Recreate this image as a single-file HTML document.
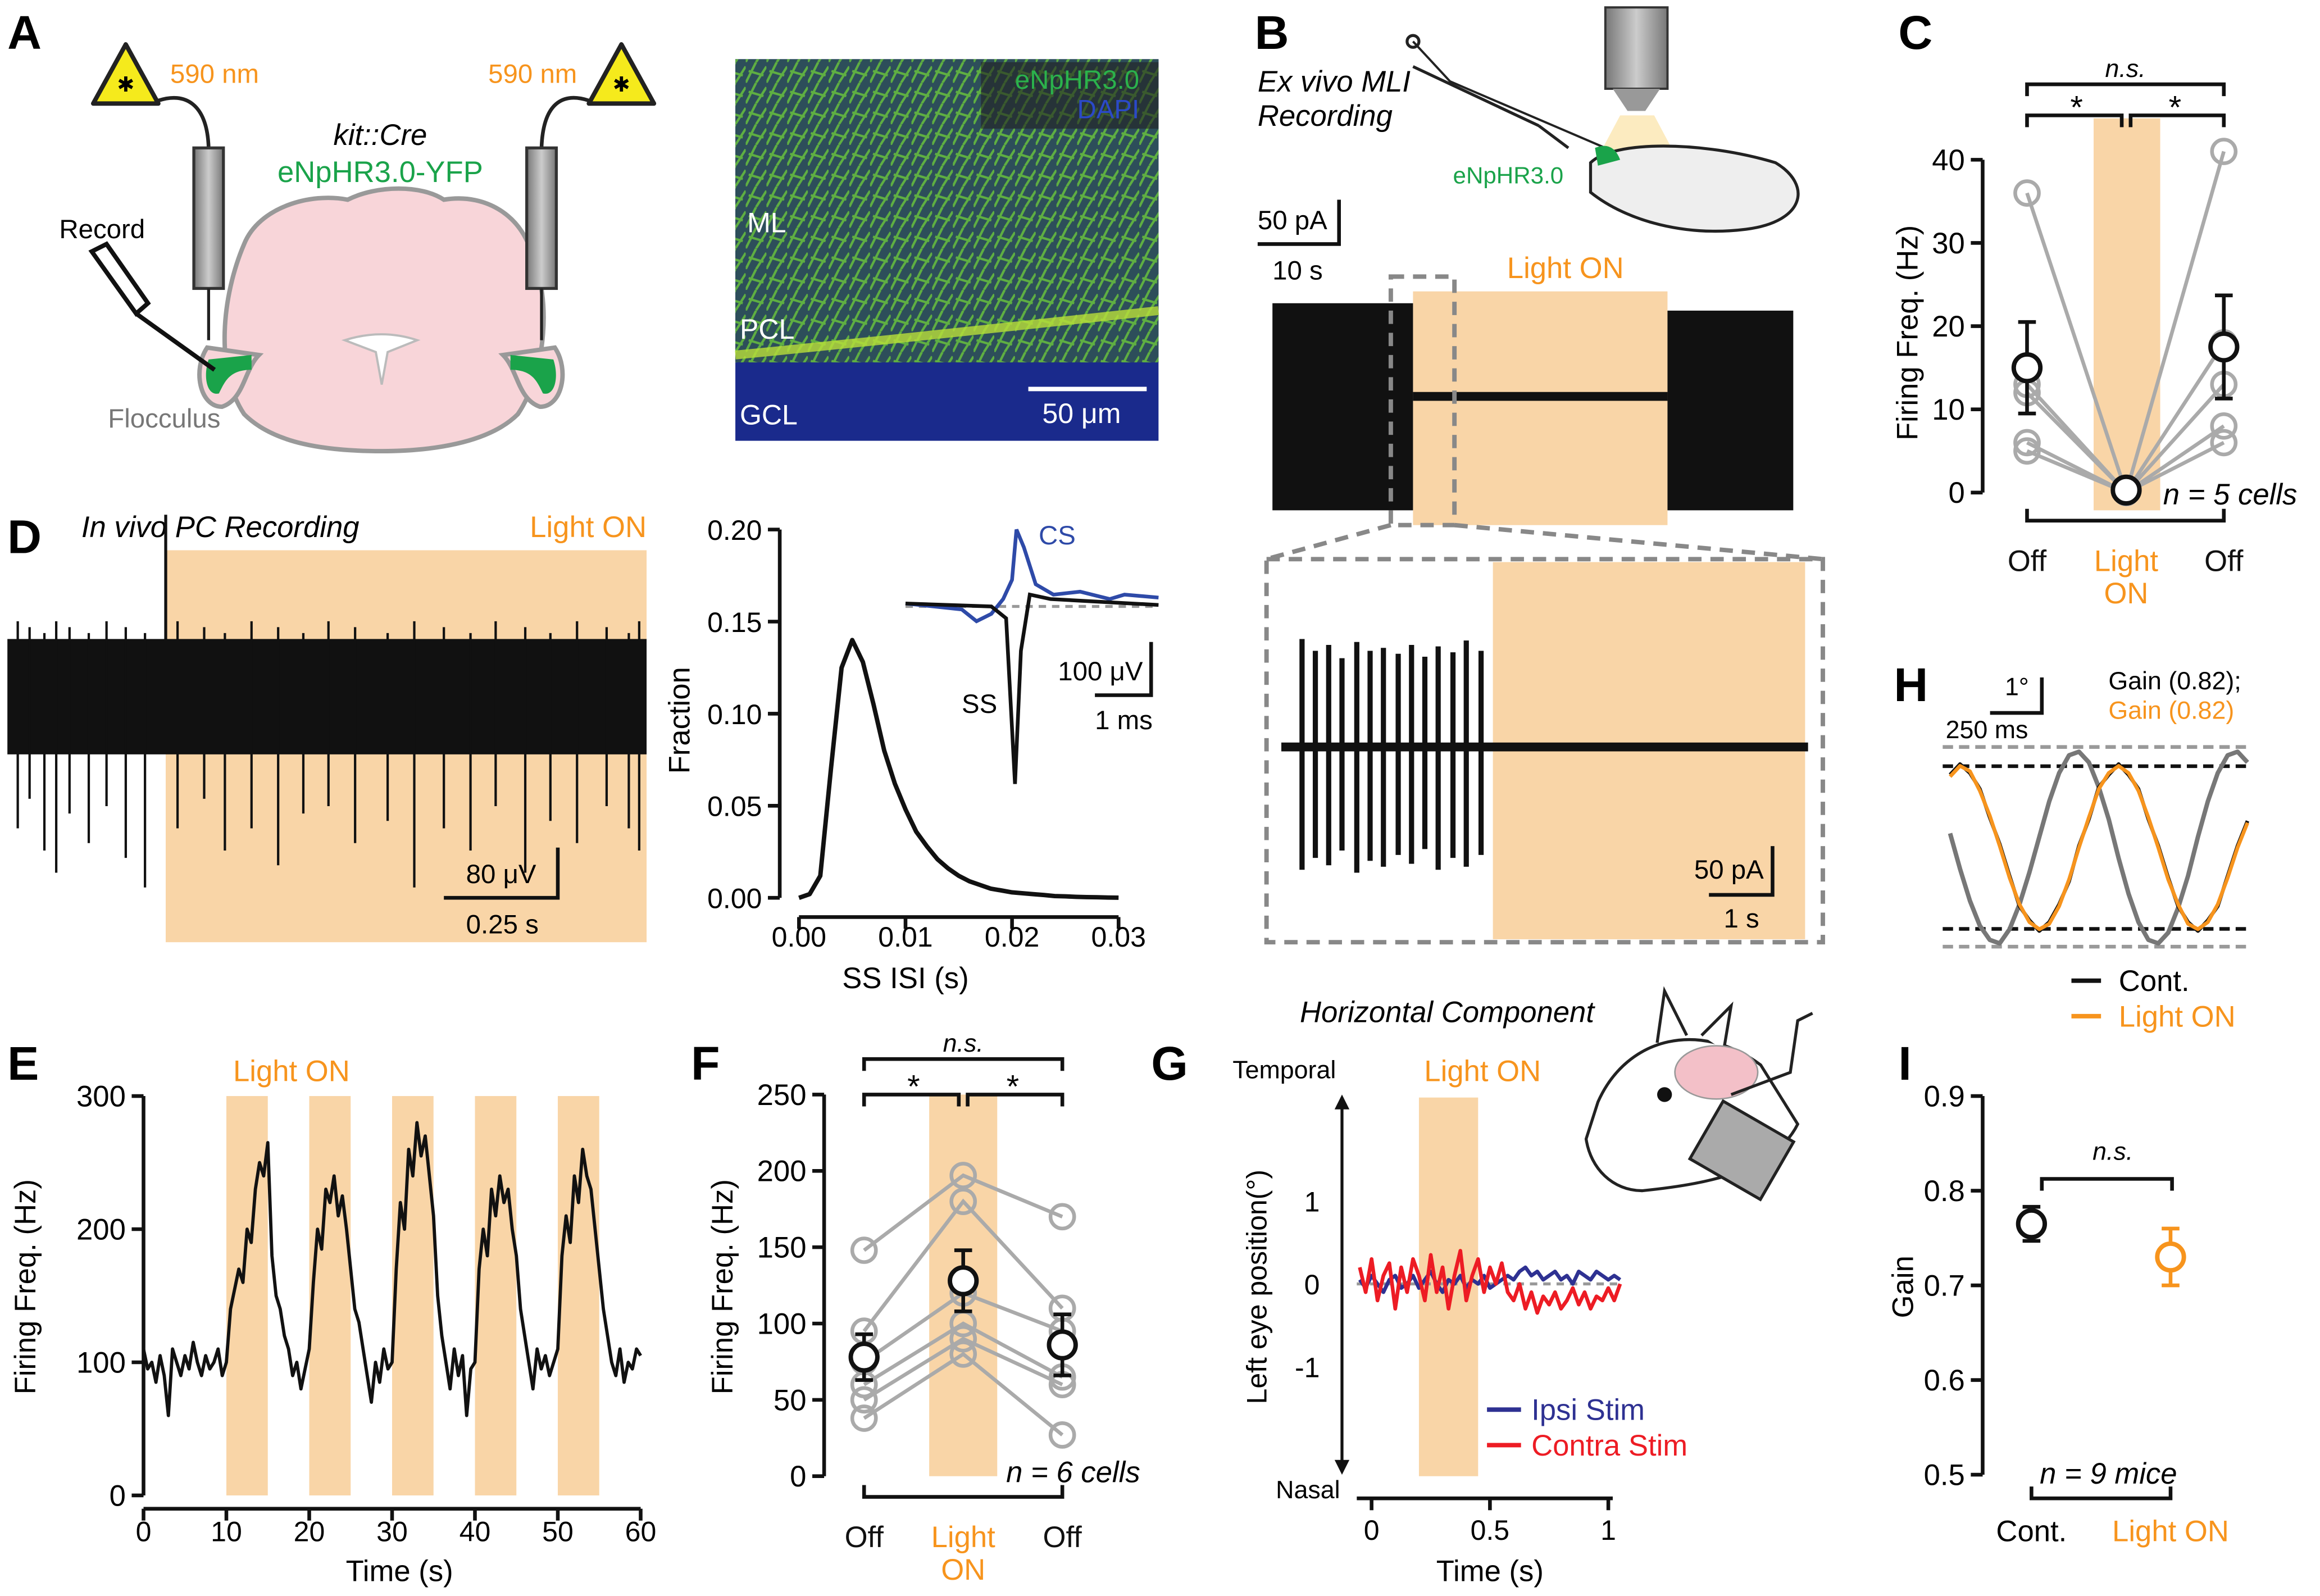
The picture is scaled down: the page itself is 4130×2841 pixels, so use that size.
<!DOCTYPE html>
<html><head><meta charset="utf-8"><style>
html,body{margin:0;padding:0;background:#fff;}
svg{display:block;font-family:"Liberation Sans",Arial,sans-serif;}
</style></head><body>
<svg id="fig" xmlns="http://www.w3.org/2000/svg" width="4130" height="2841" viewBox="0 0 1568 1079" preserveAspectRatio="none">
<defs>
<linearGradient id="cyl" x1="0" x2="1"><stop offset="0" stop-color="#777"/><stop offset="0.5" stop-color="#ccc"/><stop offset="1" stop-color="#777"/></linearGradient>
<pattern id="neur" width="14" height="14" patternUnits="userSpaceOnUse"><path d="M0 14 L7 0 M7 14 L14 3 M2 6 L12 9" stroke="#6fcf3a" stroke-width="1.6" fill="none"/></pattern>
</defs>
<rect width="1568" height="1079" fill="#fff"/>

<!-- Panel A -->
<g>
<text x="5" y="33" font-size="32" font-weight="bold">A</text>
<g><path d="M85 30 L63 70 L107 70 Z" fill="#f5ea1c" stroke="#222" stroke-width="3" stroke-linejoin="round"/><text x="85" y="62" font-size="14" text-anchor="middle">✱</text></g>
<g><path d="M420 30 L398 70 L442 70 Z" fill="#f5ea1c" stroke="#222" stroke-width="3" stroke-linejoin="round"/><text x="420" y="62" font-size="14" text-anchor="middle">✱</text></g>
<path d="M107 68 C125 62 140 70 141 100 M398 68 C380 62 367 70 366 100" stroke="#222" stroke-width="2.5" fill="none"/>
<text x="115" y="56" font-size="18" fill="#f7941d">590 nm</text>
<text x="330" y="56" font-size="18" fill="#f7941d">590 nm</text>
<text x="257" y="98" font-size="20" font-style="italic" text-anchor="middle">kit::Cre</text>
<text x="257" y="123" font-size="20" fill="#1aa34a" text-anchor="middle">eNpHR3.0-YFP</text>
<path d="M165 165 C175 140 210 130 235 135 C255 125 285 125 300 135 C330 130 355 148 360 175 C372 200 370 250 350 280 C330 300 290 305 258 305 C220 305 185 300 165 280 C145 250 150 200 165 165 Z" fill="#f8d5d9" stroke="#999" stroke-width="3"/>
<path d="M233 230 Q258 222 282 230 L262 238 L258 260 L254 238 Z" fill="#fff" stroke="#bbb" stroke-width="1.5"/>
<path d="M140 235 C130 250 135 275 150 275 C165 270 165 250 175 240 Z" fill="#f8d5d9" stroke="#999" stroke-width="3"/>
<path d="M375 235 C385 250 380 275 365 275 C350 270 350 250 340 240 Z" fill="#f8d5d9" stroke="#999" stroke-width="3"/>
<path d="M141 243 C137 255 140 268 148 266 C152 258 155 250 170 250 L170 240 Z" fill="#1aa34a"/>
<path d="M374 243 C378 255 375 268 367 266 C363 258 360 250 345 250 L345 240 Z" fill="#1aa34a"/>
<rect x="131" y="100" width="20" height="95" fill="url(#cyl)" stroke="#333" stroke-width="2"/>
<rect x="356" y="100" width="20" height="95" fill="url(#cyl)" stroke="#333" stroke-width="2"/>
<path d="M141 195 L141 230 M366 195 L366 230" stroke="#222" stroke-width="2"/>
<text x="40" y="161" font-size="18">Record</text>
<path d="M62 170 L72 165 L100 205 L92 212 Z M92 212 L145 250" stroke="#111" stroke-width="3" fill="#fff"/>
<text x="73" y="289" font-size="18" fill="#777">Flocculus</text>
</g>
<g>
<rect x="497" y="40" width="286" height="258" fill="#1a2a8c"/>
<rect x="497" y="40" width="286" height="205" fill="#2d4e5a"/>
<rect x="497" y="40" width="286" height="205" fill="url(#neur)" opacity="0.75"/>
<path d="M497 240 Q600 230 783 210" stroke="#b9e03a" stroke-width="6" fill="none" opacity="0.8"/>
<rect x="663" y="42" width="120" height="45" fill="#222" opacity="0.6"/>
<text x="770" y="60" font-size="18" fill="#2bb24c" text-anchor="end">eNpHR3.0</text>
<text x="770" y="80" font-size="18" fill="#2b49c8" text-anchor="end">DAPI</text>
<text x="505" y="157" font-size="19" fill="#fff">ML</text>
<text x="500" y="229" font-size="19" fill="#fff">PCL</text>
<text x="500" y="287" font-size="19" fill="#fff">GCL</text>
<line x1="695" y1="263" x2="775" y2="263" stroke="#fff" stroke-width="3"/>
<text x="731" y="286" font-size="19" fill="#fff" text-anchor="middle">50 μm</text>
</g>

<!-- Panel B -->
<g>
<text x="848" y="33" font-size="32" font-weight="bold">B</text>
<text x="850" y="62" font-size="20" font-style="italic">Ex vivo MLI</text>
<text x="850" y="85" font-size="20" font-style="italic">Recording</text>
<path d="M955 45 L1040 85 M1040 85 L1060 100" stroke="#222" stroke-width="2" fill="none"/>
<circle cx="955" cy="28" r="4" fill="none" stroke="#222" stroke-width="2"/>
<path d="M955 28 L980 55 L1085 100" stroke="#222" stroke-width="1.5" fill="none"/>
<rect x="1085" y="5" width="42" height="55" fill="url(#cyl)" stroke="#333" stroke-width="1.5"/>
<path d="M1090 60 L1122 60 L1112 75 L1100 75 Z" fill="#999"/>
<path d="M1095 78 L1118 78 L1135 110 L1078 110 Z" fill="#fbe6b0" opacity="0.8"/>
<path d="M1075 110 C1090 95 1150 95 1200 110 C1225 125 1220 150 1180 155 C1140 160 1100 150 1075 130 Z" fill="#eee" stroke="#222" stroke-width="2"/>
<path d="M1078 100 Q1090 95 1095 108 L1080 112 Z" fill="#1aa34a"/>
<text x="982" y="124" font-size="16" fill="#1aa34a">eNpHR3.0</text>
<text x="850" y="155" font-size="18">50 pA</text>
<path d="M850 165 L905 165 L905 135" stroke="#111" stroke-width="2.5" fill="none"/>
<text x="860" y="189" font-size="18">10 s</text>
<text x="1058" y="188" font-size="20" fill="#f7941d" text-anchor="middle">Light ON</text>
<rect x="955" y="197" width="172" height="158" fill="#f9d5a7"/>
<rect x="860" y="205" width="95" height="140" fill="#111"/>
<line x1="955" y1="268" x2="1127" y2="268" stroke="#111" stroke-width="6"/>
<rect x="1127" y="210" width="85" height="135" fill="#111"/>
<rect x="940" y="187" width="43" height="168" fill="none" stroke="#888" stroke-width="3" stroke-dasharray="9,6"/>
<path d="M940 355 L856 378 M983 355 L1232 378" stroke="#888" stroke-width="3" stroke-dasharray="9,6"/>
<rect x="856" y="378" width="376" height="259" fill="none" stroke="#888" stroke-width="3" stroke-dasharray="9,6"/>
<rect x="1009" y="380" width="211" height="255" fill="#f9d5a7"/>
<g id="bspikes"></g>
<line x1="866" y1="505" x2="1222" y2="505" stroke="#111" stroke-width="6"/>
<text x="1145" y="594" font-size="18">50 pA</text>
<path d="M1155 605 L1198 605 L1198 572" stroke="#111" stroke-width="2.5" fill="none"/>
<text x="1165" y="627" font-size="18">1 s</text>
</g>

<!-- Panel D left -->
<g>
<text x="5" y="374" font-size="32" font-weight="bold">D</text>
<text x="55" y="363" font-size="20" font-style="italic">In vivo PC Recording</text>
<text x="437" y="363" font-size="20" fill="#f7941d" text-anchor="end">Light ON</text>
<rect x="112" y="372" width="325" height="265" fill="#f9d5a7"/>
<rect x="5" y="432" width="432" height="78" fill="#111"/>
<line x1="112" y1="348" x2="112" y2="432" stroke="#111" stroke-width="2"/>
<g id="dspikes"></g>
<text x="315" y="597" font-size="18">80 μV</text>
<path d="M300 607 L377 607 L377 573" stroke="#111" stroke-width="2.5" fill="none"/>
<text x="315" y="631" font-size="18">0.25 s</text>
</g>
<g id="isi"></g>
<g id="panelC"></g>
<g id="panelE"></g>
<g id="panelF"></g>
<g id="panelG">
<g>
<path d="M1080 745 C1100 700 1150 690 1190 720 L1215 760 C1200 790 1160 800 1110 805 C1090 805 1075 790 1072 770 Z" fill="#fff" stroke="#222" stroke-width="2"/>
<path d="M1120 705 L1125 670 L1140 700 M1150 700 L1170 680 L1165 710" stroke="#222" stroke-width="2" fill="#fff"/>
<ellipse cx="1160" cy="725" rx="28" ry="18" fill="#f3c0c8" stroke="#999"/>
<circle cx="1125" cy="740" r="5" fill="#111"/>
<path d="M1170 740 L1210 725 L1215 690 L1225 685" stroke="#222" stroke-width="2" fill="none"/>
<rect x="1150" y="755" width="55" height="45" fill="#aaa" stroke="#222" stroke-width="2" transform="rotate(30 1177 777)"/>
</g>
</g>
<g id="panelH"></g>
<g id="panelI"></g>
</svg>
<script>
const NS='http://www.w3.org/2000/svg';
function mk(tag,attrs,parent,txt){const e=document.createElementNS(NS,tag);for(const k in attrs)e.setAttribute(k,attrs[k]);if(txt!==undefined)e.textContent=txt;parent.appendChild(e);return e;}
const ORANGE='#f7941d', BAND='#f9d5a7';

// ---- data ----
const bSpikeX=[880,889,898,907,917,926,935,945,954,963,972,982,991,1001];
const bSpikeTop=[432,440,436,445,434,440,438,442,436,444,437,441,433,440];
const bSpikeBot=[588,580,585,575,590,582,586,578,584,574,588,580,586,578];
const dSpikeX=[12,20,30,38,47,60,72,85,98,120,138,152,170,188,205,222,240,262,280,300,318,335,355,372,390,410,425,432];
const dSpikeBot=[560,540,575,590,550,570,545,580,600,560,540,575,560,585,550,545,570,555,600,560,575,545,590,555,570,545,560,575];
const isiX=[0,0.001,0.002,0.003,0.004,0.005,0.006,0.007,0.008,0.009,0.010,0.011,0.012,0.013,0.014,0.015,0.016,0.017,0.018,0.019,0.020,0.021,0.022,0.023,0.024,0.025,0.026,0.027,0.028,0.029,0.030];
const isiY=[0,0.002,0.012,0.07,0.125,0.14,0.128,0.105,0.08,0.062,0.048,0.036,0.028,0.021,0.016,0.012,0.009,0.007,0.005,0.004,0.003,0.0025,0.002,0.0015,0.001,0.0008,0.0006,0.0004,0.0003,0.0002,0.0001];
const isiTicksX=[0,0.01,0.02,0.03];
const isiTickLabelsX=['0.00','0.01','0.02','0.03'];
const isiTicksY=[0,0.05,0.10,0.15,0.20];
const isiTickLabelsY=['0.00','0.05','0.10','0.15','0.20'];
const cCats=['Off','Light ON','Off'];
const cOff1=[36,13,12,6,5];
const cOn=[0,0,0,0,0];
const cOff2=[41,18,13,8,6];
const cMean=[15,0.3,17.5];
const cSem=[5.5,0.4,6.2];
const cTicks=[0,10,20,30,40];
const eTime=[];for(let i=0;i<=120;i++)eTime.push(i*0.5);
const eRate=[110,95,100,85,105,90,60,110,100,90,105,95,115,100,90,105,95,100,110,90,100,
140,155,170,160,200,190,230,250,240,265,
180,150,140,120,110,90,100,80,95,110,
160,200,185,230,220,240,210,225,200,170,
140,130,110,90,70,100,85,110,95,100,
170,220,200,260,240,280,255,270,240,210,
150,120,100,80,110,90,105,60,95,100,
170,200,180,230,210,240,220,230,200,180,
140,120,100,80,110,95,105,90,100,110,
180,210,190,240,220,260,240,230,200,170,
140,120,100,90,110,85,100,95,110,105];
const eLightStart=[10,20,30,40,50];
const eTicksX=[0,10,20,30,40,50,60];
const eTicksY=[0,100,200,300];
const fOff1=[148,95,75,60,50,38];
const fOn=[197,180,120,100,90,80];
const fOff2=[170,110,95,65,60,27];
const fMean=[78,128,86];
const fSem=[15,20,20];
const fTicks=[0,50,100,150,200,250];
const gTime=[];for(let i=0;i<45;i++)gTime.push(-0.05+i*0.025);
const gBlue=[0.05,-0.05,0.1,0,-0.1,0.05,0.1,-0.05,0,0.1,-0.05,0.05,0.15,0,-0.1,0.05,0,0.1,-0.05,0.05,0,0.1,-0.05,0,0.05,0.1,0.05,0.15,0.2,0.1,0.15,0.05,0.1,0.15,0.05,0.1,0,0.15,0.1,0.05,0.15,0.1,0.05,0.1,0.05];
const gRed=[0.2,-0.1,0.3,-0.2,0.1,0.25,-0.3,0.2,-0.1,0.3,0.1,-0.2,0.35,-0.1,0.2,-0.3,0.1,0.4,-0.2,0.1,0.3,-0.1,0.2,0,0.25,-0.1,-0.2,0,-0.3,-0.1,-0.35,-0.15,-0.25,-0.1,-0.3,-0.2,-0.05,-0.25,-0.1,-0.3,-0.15,-0.2,-0.05,-0.2,0];
const gTicksX=[0,0.5,1];
const gTicksY=[1,0,-1];
const hOrange=[2.0,2.3,2.15,1.6,0.9,0.05,-0.85,-1.6,-2.1,-2.3,-2.15,-1.65,-0.9,0,0.85,1.65,2.1,2.3,2.1,1.6,0.85,0,-0.9,-1.6,-2.15,-2.3,-2.1,-1.6,-0.85,0,0.7];
const hBlack=[2.05,2.35,2.1,1.65,0.85,0.1,-0.8,-1.65,-2.05,-2.35,-2.1,-1.6,-0.95,0.05,0.8,1.7,2.05,2.35,2.05,1.65,0.8,0.05,-0.85,-1.65,-2.1,-2.35,-2.05,-1.65,-0.8,0.05,0.75];
const hStim=[0.4,-0.6,-1.5,-2.2,-2.6,-2.7,-2.3,-1.6,-0.7,0.3,1.3,2.1,2.6,2.7,2.4,1.7,0.8,-0.3,-1.3,-2.1,-2.6,-2.7,-2.4,-1.7,-0.8,0.3,1.3,2.1,2.6,2.7,2.4];
const iCats=['Cont.','Light ON'];
const iMean=[0.765,0.73];
const iSem=[0.018,0.03];
const iTicks=[0.5,0.6,0.7,0.8,0.9];

// ---- panel B spikes ----
const bs=document.getElementById('bspikes');
bSpikeX.forEach((x,i)=>{const l=mk('line',{x1:x,x2:x,y1:bSpikeTop[i],y2:bSpikeBot[i],stroke:'#111','stroke-width':3.5},bs);

});
// ---- panel D spikes ----
const ds=document.getElementById('dspikes');
dSpikeX.forEach((x,i)=>{const l=mk('line',{x1:x,x2:x,y1:420+(i%3)*4,y2:dSpikeBot[i],stroke:'#111','stroke-width':1.6},ds);

});

function yAxis(g,x,ticks,yf,labels,fs){mk('line',{x1:x,x2:x,y1:yf(ticks[ticks.length-1]),y2:yf(ticks[0]),stroke:'#111','stroke-width':2.5},g);
ticks.forEach((t,i)=>{mk('line',{x1:x-8,x2:x,y1:yf(t),y2:yf(t),stroke:'#111','stroke-width':2.5},g);
const tx=mk('text',{x:x-12,y:yf(t)+7,'font-size':fs||20,'text-anchor':'end'},g,labels?labels[i]:String(t));

});}
function poly(g,xs,ys,xf,yf,color,w){const p=xs.map((v,i)=>xf(v).toFixed(1)+','+yf(ys[i]).toFixed(1)).join(' ');return mk('polyline',{points:p,fill:'none',stroke:color,'stroke-width':w,'stroke-linejoin':'round'},g);}

// ---- ISI ----
(function(){const g=document.getElementById('isi');
const xf=v=>540+v*7200, yf=v=>607-v*1245;
yAxis(g,527,isiTicksY,yf,isiTickLabelsY,19);
mk('line',{x1:xf(0),x2:xf(0.03),y1:620,y2:620,stroke:'#111','stroke-width':2.5},g);
isiTicksX.forEach((t,i)=>{mk('line',{x1:xf(t),x2:xf(t),y1:620,y2:628,stroke:'#111','stroke-width':2.5},g);
const tx=mk('text',{x:xf(t),y:640,'font-size':19,'text-anchor':'middle'},g,isiTickLabelsX[i]);

});
const ln=poly(g,isiX,isiY,xf,yf,'#111',3);


const xl=mk('text',{x:612,y:668,'font-size':20,'text-anchor':'middle'},g,'SS ISI (s)');


const yl=mk('text',{x:466,y:487,'font-size':20,'text-anchor':'middle',transform:'rotate(-90 466 487)'},g,'Fraction');


mk('line',{x1:612,x2:783,y1:410,y2:410,stroke:'#999','stroke-width':2,'stroke-dasharray':'5,4'},g);
mk('path',{d:'M612 408 L650 412 L660 420 L670 415 L678 405 L684 392 L687 358 L692 370 L700 395 L712 402 L730 400 L750 405 L760 402 L783 404',fill:'none',stroke:'#2e4aa8','stroke-width':2.5},g);
mk('path',{d:'M612 408 L670 410 L680 418 L686 530 L690 440 L696 402 L710 405 L783 409',fill:'none',stroke:'#111','stroke-width':2.5},g);
mk('text',{x:702,y:368,'font-size':18,fill:'#2e4aa8'},g,'CS');
mk('text',{x:650,y:482,'font-size':18},g,'SS');
mk('text',{x:715,y:460,'font-size':18},g,'100 μV');
mk('path',{d:'M740 470 L778 470 L778 434',fill:'none',stroke:'#111','stroke-width':2.5},g);
mk('text',{x:740,y:493,'font-size':18},g,'1 ms');
})();

function dotPanel(g,axX,yf,ticks,catX,sets,mean,sem,bandX,bandTop,bandBot,bracketY1,bracketY2){
 mk('rect',{x:bandX[0],y:bandTop,width:bandX[1]-bandX[0],height:bandBot-bandTop,fill:BAND},g);
 yAxis(g,axX,ticks,yf,null,20);
 for(let k=0;k<sets[0].length;k++){const p=catX.map((x,j)=>x+','+yf(sets[j][k])).join(' ');
  const l=mk('polyline',{points:p,fill:'none',stroke:'#aaa','stroke-width':2.5},g);
  
  
  catX.forEach((x,j)=>{const c=mk('circle',{cx:x,cy:yf(sets[j][k]),r:8,fill:'none',stroke:'#aaa','stroke-width':2.5},g);
   
   });}
 catX.forEach((x,j)=>{mk('path',{d:`M${x-6} ${yf(mean[j]+sem[j])} h12 M${x} ${yf(mean[j]+sem[j])} V${yf(mean[j]-sem[j])} M${x-6} ${yf(mean[j]-sem[j])} h12`,stroke:'#111','stroke-width':2.5,fill:'none'},g);
  const c=mk('circle',{cx:x,cy:yf(mean[j]),r:9,fill:'#fff',stroke:'#111','stroke-width':3},g);
  
  });
 const a=catX[0],b=catX[1],c2=catX[2];
 mk('path',{d:`M${a} ${bracketY1+8} V${bracketY1} H${c2} V${bracketY1+8}`,stroke:'#111','stroke-width':2.5,fill:'none'},g);
 mk('path',{d:`M${a} ${bracketY2+8} V${bracketY2} H${b-3} V${bracketY2+8} M${b+3} ${bracketY2+8} V${bracketY2} H${c2} V${bracketY2+8}`,stroke:'#111','stroke-width':2.5,fill:'none'},g);
 mk('text',{x:(a+c2)/2,y:bracketY1-5,'font-size':17,'font-style':'italic','text-anchor':'middle'},g,'n.s.');
 mk('text',{x:(a+b)/2,y:bracketY2+2,'font-size':22,'text-anchor':'middle'},g,'*');
 mk('text',{x:(b+c2)/2,y:bracketY2+2,'font-size':22,'text-anchor':'middle'},g,'*');
}
function catAxis(g,catX,y,labels){mk('path',{d:`M${catX[0]} ${y-8} V${y} H${catX[catX.length-1]} V${y-8}`,stroke:'#111','stroke-width':2.5,fill:'none'},g);
 labels.forEach((l,i)=>{const c=l==='Light ON'?ORANGE:'#111';
  if(l==='Light ON'){mk('text',{x:catX[i],y:y+34,'font-size':20,fill:c,'text-anchor':'middle'},g,'Light');
   mk('text',{x:catX[i],y:y+56,'font-size':20,fill:c,'text-anchor':'middle'},g,'ON');}
  else{const t=mk('text',{x:catX[i],y:y+34,'font-size':20,fill:c,'text-anchor':'middle'},g,l);
   
   }});}

// ---- C ----
(function(){const g=document.getElementById('panelC');const yf=v=>333-v*5.625;const cx=[1370,1437,1503];
mk('text',{x:1283,y:33,'font-size':32,'font-weight':'bold'},g,'C');
dotPanel(g,1340,yf,cTicks,cx,[cOff1,cOn,cOff2],cMean,cSem,[1415,1460],80,345,57,78);
catAxis(g,cx,352,cCats);
const yl=mk('text',{x:1296,y:225,'font-size':20,'text-anchor':'middle',transform:'rotate(-90 1296 225)'},g,'Firing Freq. (Hz)');


mk('text',{x:1462,y:341,'font-size':20,'font-style':'italic'},g,'n = 5 cells');})();

// ---- E ----
(function(){const g=document.getElementById('panelE');const xf=t=>97+t*5.6,yf=v=>1011-v*0.9;
mk('text',{x:5,y:730,'font-size':32,'font-weight':'bold'},g,'E');
eLightStart.forEach(s=>{const r=mk('rect',{x:xf(s),y:yf(300),width:xf(s+5)-xf(s),height:yf(0)-yf(300),fill:BAND},g);

});
mk('text',{x:197,y:731,'font-size':20,fill:ORANGE,'text-anchor':'middle'},g,'Light ON');
yAxis(g,97,eTicksY,yf,null,20);
mk('line',{x1:97,x2:xf(60),y1:1020,y2:1020,stroke:'#111','stroke-width':2.5},g);
eTicksX.forEach(t=>{mk('line',{x1:xf(t),x2:xf(t),y1:1020,y2:1028,stroke:'#111','stroke-width':2.5},g);
mk('text',{x:xf(t),y:1042,'font-size':19,'text-anchor':'middle'},g,String(t));});
const ln=poly(g,eTime,eRate,xf,yf,'#111',2.2);


mk('text',{x:270,y:1069,'font-size':20,'text-anchor':'middle'},g,'Time (s)');
mk('text',{x:24,y:870,'font-size':20,'text-anchor':'middle',transform:'rotate(-90 24 870)'},g,'Firing Freq. (Hz)');})();

// ---- F ----
(function(){const g=document.getElementById('panelF');const yf=v=>998-v*1.032;const cx=[584,651,718];
mk('text',{x:467,y:730,'font-size':32,'font-weight':'bold'},g,'F');
dotPanel(g,557,yf,fTicks,cx,[fOff1,fOn,fOff2],fMean,fSem,[628,674],740,998,716,740);
catAxis(g,cx,1012,['Off','Light ON','Off']);
mk('text',{x:495,y:870,'font-size':20,'text-anchor':'middle',transform:'rotate(-90 495 870)'},g,'Firing  Freq. (Hz)');
mk('text',{x:680,y:1002,'font-size':20,'font-style':'italic'},g,'n = 6 cells');})();

// ---- G ----
(function(){const g=document.getElementById('panelG');const xf=t=>927+t*160,yf=v=>868-v*56;
mk('text',{x:778,y:730,'font-size':32,'font-weight':'bold'},g,'G');
mk('text',{x:978,y:691,'font-size':20,'font-style':'italic','text-anchor':'middle'},g,'Horizontal Component');
mk('rect',{x:xf(0.2),y:742,width:xf(0.45)-xf(0.2),height:256,fill:BAND},g);
mk('text',{x:1002,y:731,'font-size':20,fill:ORANGE,'text-anchor':'middle'},g,'Light ON');
mk('line',{x1:907,x2:907,y1:742,y2:995,stroke:'#111','stroke-width':2},g);
mk('path',{d:'M902 750 L907 740 L912 750 Z M902 987 L907 997 L912 987 Z',fill:'#111'},g);
mk('text',{x:868,y:729,'font-size':17,'text-anchor':'middle'},g,'Temporal');
mk('text',{x:884,y:1013,'font-size':17,'text-anchor':'middle'},g,'Nasal');
gTicksY.forEach(t=>{mk('text',{x:892,y:yf(t)+7,'font-size':19,'text-anchor':'end'},g,String(t));});
mk('line',{x1:917,x2:1093,y1:yf(0),y2:yf(0),stroke:'#999','stroke-width':2,'stroke-dasharray':'5,4'},g);
const b=poly(g,gTime,gBlue,xf,yf,'#2e3192',2.5);


const r=poly(g,gTime,gRed,xf,yf,'#ed1c24',2.5);


mk('line',{x1:917,x2:1090,y1:1013,y2:1013,stroke:'#111','stroke-width':2.5},g);
gTicksX.forEach(t=>{mk('line',{x1:xf(t),x2:xf(t),y1:1013,y2:1021,stroke:'#111','stroke-width':2.5},g);
mk('text',{x:xf(t),y:1041,'font-size':19,'text-anchor':'middle'},g,String(t));});
mk('text',{x:1007,y:1069,'font-size':20,'text-anchor':'middle'},g,'Time (s)');
mk('text',{x:856,y:870,'font-size':19,'text-anchor':'middle',transform:'rotate(-90 856 870)'},g,'Left eye position(°)');
mk('line',{x1:1005,x2:1028,y1:953,y2:953,stroke:'#2e3192','stroke-width':3},g);
mk('text',{x:1035,y:960,'font-size':20,fill:'#2e3192'},g,'Ipsi Stim');
mk('line',{x1:1005,x2:1028,y1:977,y2:977,stroke:'#ed1c24','stroke-width':3},g);
mk('text',{x:1035,y:984,'font-size':20,fill:'#ed1c24'},g,'Contra Stim');})();

// ---- H ----
(function(){const g=document.getElementById('panelH');const xs=hOrange.map((_,i)=>i);const xf=i=>1318+i*6.7,yf=v=>573-v*24;
mk('text',{x:1280,y:474,'font-size':32,'font-weight':'bold'},g,'H');
mk('text',{x:1355,y:470,'font-size':17},g,'1°');
mk('path',{d:'M1345 482 L1380 482 L1380 458',fill:'none',stroke:'#111','stroke-width':2.5},g);
mk('text',{x:1315,y:499,'font-size':17},g,'250 ms');
mk('text',{x:1425,y:466,'font-size':17},g,'Gain (0.82);');
mk('text',{x:1425,y:486,'font-size':17,fill:ORANGE},g,'Gain (0.82)');
[505,640].forEach(y=>mk('line',{x1:1313,x2:1520,y1:y,y2:y,stroke:'#999','stroke-width':2.5,'stroke-dasharray':'7,4'},g));
[518,628].forEach(y=>mk('line',{x1:1313,x2:1520,y1:y,y2:y,stroke:'#111','stroke-width':2.5,'stroke-dasharray':'7,4'},g));
const s=poly(g,xs,hStim,xf,yf,'#777',3);
const k=poly(g,xs,hBlack,xf,yf,'#111',2.5);
const o=poly(g,xs,hOrange,xf,yf,ORANGE,2.5);
mk('line',{x1:1400,x2:1420,y1:663,y2:663,stroke:'#111','stroke-width':3},g);
mk('text',{x:1432,y:670,'font-size':20},g,'Cont.');
mk('line',{x1:1400,x2:1420,y1:687,y2:687,stroke:ORANGE,'stroke-width':3},g);
mk('text',{x:1432,y:694,'font-size':20,fill:ORANGE},g,'Light ON');})();

// ---- I ----
(function(){const g=document.getElementById('panelI');const yf=v=>997-(v-0.5)*640;const cx=[1373,1467];
mk('text',{x:1283,y:730,'font-size':32,'font-weight':'bold'},g,'I');
yAxis(g,1340,iTicks,yf,iTicks.map(v=>v.toFixed(1)),20);
iMean.forEach((m,j)=>{const col=j?ORANGE:'#111';
mk('path',{d:`M${cx[j]-6} ${yf(m+iSem[j])} h12 M${cx[j]} ${yf(m+iSem[j])} V${yf(m-iSem[j])} M${cx[j]-6} ${yf(m-iSem[j])} h12`,stroke:col,'stroke-width':2.5,fill:'none'},g);
const c=mk('circle',{cx:cx[j],cy:yf(m),r:9,fill:'#fff',stroke:col,'stroke-width':3},g);

});
mk('path',{d:'M1380 805 V797 H1468 V805',stroke:'#111','stroke-width':2.5,fill:'none'},g);
mk('text',{x:1428,y:784,'font-size':17,'font-style':'italic','text-anchor':'middle'},g,'n.s.');
mk('path',{d:`M${cx[0]} 1005 V1013 H${cx[1]} V1005`,stroke:'#111','stroke-width':2.5,fill:'none'},g);
mk('text',{x:cx[0],y:1042,'font-size':20,'text-anchor':'middle'},g,iCats[0]);
mk('text',{x:cx[1],y:1042,'font-size':20,fill:ORANGE,'text-anchor':'middle'},g,iCats[1]);
mk('text',{x:1425,y:1003,'font-size':20,'font-style':'italic','text-anchor':'middle'},g,'n = 9 mice');
mk('text',{x:1293,y:870,'font-size':20,'text-anchor':'middle',transform:'rotate(-90 1293 870)'},g,'Gain');})();
</script>
</body></html>
